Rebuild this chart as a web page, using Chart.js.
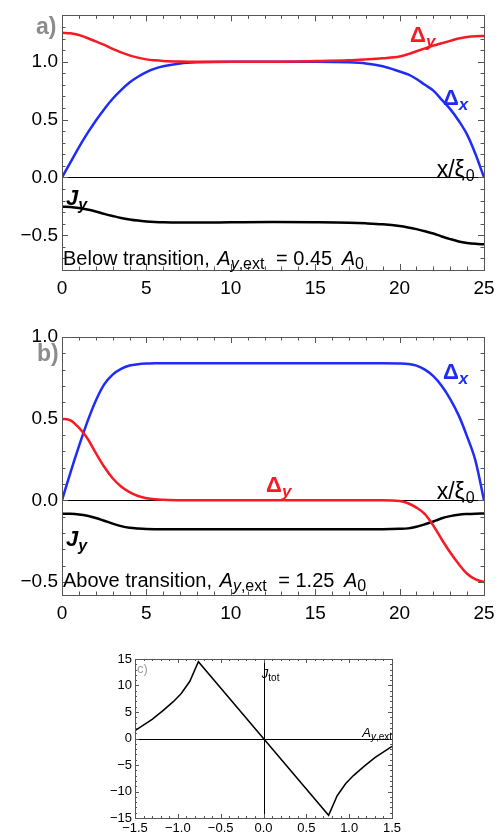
<!DOCTYPE html>
<html>
<head>
<meta charset="utf-8">
<script src="https://cdn.jsdelivr.net/npm/chart.js@4.4.0/dist/chart.umd.min.js"></script>
<style>
    body { margin: 0; background: #fff; }
    .panel { position: absolute; left: 0; }
    #panelA { top: 0; }
    #panelB { top: 300px; }
    #panelC { top: 630px; }
</style>
</head>
<body>
<div class="panel" id="panelA"><canvas id="chartA" width="502" height="300"></canvas></div>
<div class="panel" id="panelB"><canvas id="chartB" width="502" height="330"></canvas></div>
<div class="panel" id="panelC"><canvas id="chartC" width="502" height="207"></canvas></div>
<script>
// Position along the sample, x / xi0 (shared by panels a and b)
const xGrid = [0, 0.5, 1, 1.5, 2, 2.5, 3, 3.5, 4, 4.5, 5, 5.5, 6, 7, 8, 10, 12.5, 15, 17, 18, 19, 20, 20.5, 21, 21.5, 22, 22.5, 23, 23.5, 24, 24.5, 25];

// a) below transition, A_y,ext = 0.45 A0
const deltaXBelow = [0, 0.13, 0.26, 0.38, 0.49, 0.59, 0.68, 0.755, 0.82, 0.87, 0.91, 0.94, 0.96, 0.985, 0.995, 1.0, 1.0, 1.0, 0.995, 0.985, 0.96, 0.915, 0.89, 0.85, 0.80, 0.75, 0.67, 0.59, 0.49, 0.37, 0.20, 0];
const deltaYBelow = [1.25, 1.245, 1.23, 1.205, 1.175, 1.145, 1.11, 1.08, 1.055, 1.035, 1.02, 1.012, 1.007, 1.002, 1.0, 1.0, 1.0, 1.005, 1.012, 1.02, 1.03, 1.045, 1.065, 1.09, 1.115, 1.14, 1.16, 1.18, 1.2, 1.213, 1.22, 1.222];
const jyBelow = [-0.253, -0.256, -0.265, -0.278, -0.295, -0.315, -0.333, -0.35, -0.363, -0.373, -0.38, -0.385, -0.388, -0.39, -0.39, -0.388, -0.386, -0.388, -0.392, -0.397, -0.405, -0.42, -0.432, -0.447, -0.465, -0.485, -0.51, -0.533, -0.553, -0.566, -0.574, -0.578];

// b) above transition, A_y,ext = 1.25 A0
const deltaXAbove = [0, 0.17, 0.33, 0.48, 0.61, 0.71, 0.77, 0.805, 0.825, 0.833, 0.837, 0.839, 0.84, 0.84, 0.84, 0.84, 0.84, 0.84, 0.84, 0.84, 0.84, 0.838, 0.835, 0.825, 0.80, 0.76, 0.70, 0.62, 0.52, 0.39, 0.24, 0];
const deltaYAbove = [0.5, 0.49, 0.445, 0.38, 0.29, 0.205, 0.135, 0.085, 0.05, 0.026, 0.013, 0.006, 0.003, 0, 0, 0, 0, 0, 0, 0, 0, -0.004, -0.018, -0.045, -0.085, -0.155, -0.24, -0.32, -0.39, -0.45, -0.485, -0.5];
const jyAbove = [-0.082, -0.083, -0.087, -0.095, -0.108, -0.125, -0.143, -0.158, -0.168, -0.173, -0.176, -0.177, -0.177, -0.177, -0.177, -0.177, -0.177, -0.177, -0.177, -0.177, -0.177, -0.175, -0.172, -0.162, -0.147, -0.13, -0.11, -0.097, -0.088, -0.084, -0.082, -0.081];

// c) total current against the external field
const aExt = [-1.5, -1.3, -1.17, -1.05, -0.96, -0.86, -0.76, 0, 0.76, 0.86, 0.96, 1.05, 1.17, 1.3, 1.5];
const jTot = [1.5, 3.6, 5.3, 7.0, 8.5, 10.8, 14.5, 0, -14.5, -10.8, -8.5, -7.0, -5.3, -3.6, -1.5];

// tick values and labels
const xTicksAB = [0, 5, 10, 15, 20, 25];
const xTickLabelsAB = ['0', '5', '10', '15', '20', '25'];
const yTicksAB = [-0.5, 0, 0.5, 1.0];
const yTickLabelsAB = ['\u22120.5', '0.0', '0.5', '1.0'];
const xTicksC = [-1.5, -1, -0.5, 0, 0.5, 1, 1.5];
const xTickLabelsC = ['\u22121.5', '\u22121.0', '\u22120.5', '0.0', '0.5', '1.0', '1.5'];
const yTicksC = [-15, -10, -5, 0, 5, 10, 15];
const yTickLabelsC = ['\u221215', '\u221210', '\u22125', '0', '5', '10', '15'];

const FONT = '"Liberation Sans", Arial, sans-serif';
const RED = '#f51a24';
const BLUE = '#1f2cf5';
const GRAY = '#8c8c8c';

function points(xs, ys) {
    return xs.map((x, i) => ({ x: x, y: ys[i] }));
}

function curve(data, color, width) {
    return {
        data: data,
        borderColor: color,
        borderWidth: width,
        pointRadius: 0,
        fill: false,
        cubicInterpolationMode: 'monotone'
    };
}

// values between min and max that are multiples of step
function tickRun(min, max, step) {
    const out = [];
    const n0 = Math.ceil(min / step - 1e-6);
    const n1 = Math.floor(max / step + 1e-6);
    for (let k = n0; k <= n1; k++) out.push(k * step);
    return out;
}

function isMajor(v, major) {
    const r = v / major;
    return Math.abs(r - Math.round(r)) < 1e-6;
}

// Mathematica style frame: zero axes under the curves, frame and inward ticks on top
const framePlugin = {
    id: 'frame',
    beforeDatasetsDraw(chart, args, opts) {
        const ctx = chart.ctx;
        const a = chart.chartArea;
        const x = chart.scales.x, y = chart.scales.y;
        ctx.save();
        ctx.strokeStyle = '#000';
        ctx.lineWidth = opts.axisWidth;
        if (opts.hAxis) {
            const py = Math.round(y.getPixelForValue(0)) + 0.5;
            ctx.beginPath(); ctx.moveTo(a.left, py); ctx.lineTo(a.right, py); ctx.stroke();
        }
        if (opts.vAxis) {
            const px = Math.round(x.getPixelForValue(0)) + 0.5;
            ctx.beginPath(); ctx.moveTo(px, a.top); ctx.lineTo(px, a.bottom); ctx.stroke();
        }
        ctx.restore();
    },
    afterDatasetsDraw(chart, args, opts) {
        const ctx = chart.ctx;
        const a = chart.chartArea;
        const x = chart.scales.x, y = chart.scales.y;
        ctx.save();
        ctx.strokeStyle = '#555';
        ctx.lineWidth = 1;
        ctx.strokeRect(Math.round(a.left) + 0.5, Math.round(a.top) + 0.5, Math.round(a.right - a.left), Math.round(a.bottom - a.top));
        ctx.beginPath();
        tickRun(x.min, x.max, opts.xMinor).forEach(v => {
            const px = Math.round(x.getPixelForValue(v)) + 0.5;
            const len = isMajor(v, opts.xMajor) ? opts.majorLen : opts.minorLen;
            ctx.moveTo(px, a.bottom); ctx.lineTo(px, a.bottom - len);
            ctx.moveTo(px, a.top); ctx.lineTo(px, a.top + len);
        });
        tickRun(y.min, y.max, opts.yMinor).forEach(v => {
            const py = Math.round(y.getPixelForValue(v)) + 0.5;
            const len = isMajor(v, opts.yMajor) ? opts.majorLen : opts.minorLen;
            ctx.moveTo(a.left, py); ctx.lineTo(a.left + len, py);
            ctx.moveTo(a.right, py); ctx.lineTo(a.right - len, py);
        });
        ctx.stroke();
        ctx.restore();
    },
    afterDraw(chart, args, opts) {
        // text labels anchored on the data scales
        const ctx = chart.ctx;
        const x = chart.scales.x, y = chart.scales.y;
        ctx.save();
        ctx.textBaseline = 'alphabetic';
        ctx.textAlign = 'left';
        (opts.notes || []).forEach(note => {
            let cx = x.getPixelForValue(note.x);
            const cy = y.getPixelForValue(note.y);
            if (note.align === 'right') {
                let w = 0;
                note.parts.forEach(p => { ctx.font = p.font; w += ctx.measureText(p.text).width + (p.gap || 0); });
                cx -= w;
            }
            note.parts.forEach(p => {
                ctx.font = p.font;
                ctx.fillStyle = p.color || note.color || '#000';
                ctx.fillText(p.text, cx, cy + (p.dy || 0));
                cx += ctx.measureText(p.text).width + (p.gap || 0);
            });
        });
        ctx.restore();
    }
};

Chart.register(framePlugin);

function axes(xMin, xMax, yMin, yMax, xt, xl, yt, yl, fontSize, yWidth, xHeight, xPad, yPad) {
    return {
        x: {
            type: 'linear', min: xMin, max: xMax,
            grid: { display: false, drawTicks: false }, border: { display: false },
            afterBuildTicks: s => { s.ticks = xt.map(v => ({ value: v })); },
            afterFit: s => { s.height = xHeight; },
            ticks: {
                autoSkip: false, maxRotation: 0, padding: xPad, color: '#000',
                font: { family: FONT, size: fontSize },
                callback: (v, i) => xl[i]
            }
        },
        y: {
            type: 'linear', min: yMin, max: yMax,
            grid: { display: false, drawTicks: false }, border: { display: false },
            afterBuildTicks: s => { s.ticks = yt.map(v => ({ value: v })); },
            afterFit: s => { s.width = yWidth; },
            ticks: {
                autoSkip: false, padding: yPad, color: '#000',
                font: { family: FONT, size: fontSize },
                callback: (v, i) => yl[i]
            }
        }
    };
}

function deltaLabel(sub, color, x, y) {
    return { x: x, y: y, color: color, parts: [
        { text: '\u0394', font: 'bold 22px ' + FONT },
        { text: sub, font: 'bold italic 17px ' + FONT, dy: 5 }
    ] };
}

function jyLabel(x, y) {
    return { x: x, y: y, parts: [
        { text: 'J', font: 'bold italic 22px ' + FONT },
        { text: 'y', font: 'bold italic 16px ' + FONT, dy: 5 }
    ] };
}

function xiLabel(x, y) {
    return { x: x, y: y, align: 'right', parts: [
        { text: 'x/\u03be', font: '23px ' + FONT, gap: 1 },
        { text: '0', font: '16px ' + FONT, dy: 4 }
    ] };
}

function captionLabel(lead, value, x, y) {
    return { x: x, y: y, parts: [
        { text: lead + ' ', font: '20px ' + FONT, gap: 2 },
        { text: 'A', font: 'italic 20px ' + FONT },
        { text: 'y', font: 'italic 16px ' + FONT, dy: 4 },
        { text: ',ext', font: '16px ' + FONT, dy: 4, gap: 6 },
        { text: ' = ' + value + ' ', font: '20px ' + FONT, gap: 4 },
        { text: 'A', font: 'italic 20px ' + FONT },
        { text: '0', font: '16px ' + FONT, dy: 4 }
    ] };
}

// Panel a
new Chart(document.getElementById('chartA').getContext('2d'), {
    type: 'line',
    data: {
        datasets: [
            curve(points(xGrid, deltaYBelow), RED, 2.5),
            curve(points(xGrid, deltaXBelow), BLUE, 2.5),
            curve(points(xGrid, jyBelow), '#000', 2.5)
        ]
    },
    options: {
        responsive: false,
        animation: false,
        layout: { padding: { top: 10, right: 18, left: 0, bottom: 0 } },
        scales: axes(0, 25, -0.8, 1.4, xTicksAB, xTickLabelsAB, yTicksAB, yTickLabelsAB, 19, 62, 30, 7, 4),
        plugins: {
            legend: { display: false },
            tooltip: { enabled: false },
            frame: {
                hAxis: true, vAxis: false, axisWidth: 1,
                xMinor: 1, xMajor: 5, yMinor: 0.1, yMajor: 0.5, majorLen: 6, minorLen: 3.5,
                notes: [
                    { x: -1.54, y: 1.238, color: GRAY, parts: [{ text: 'a)', font: 'bold 23px ' + FONT }] },
                    deltaLabel('y', RED, 20.62, 1.171),
                    deltaLabel('x', BLUE, 22.57, 0.623),
                    xiLabel(24.45, 0.005),
                    jyLabel(0.24, -0.236),
                    captionLabel('Below transition,', '0.45', 0.06, -0.754)
                ]
            }
        }
    }
});

// Panel b
new Chart(document.getElementById('chartB').getContext('2d'), {
    type: 'line',
    data: {
        datasets: [
            curve(points(xGrid, deltaYAbove), RED, 2.5),
            curve(points(xGrid, deltaXAbove), BLUE, 2.5),
            curve(points(xGrid, jyAbove), '#000', 2.5)
        ]
    },
    options: {
        responsive: false,
        animation: false,
        layout: { padding: { top: 37, right: 18, left: 0, bottom: 0 } },
        scales: axes(0, 25, -0.58, 1.0, xTicksAB, xTickLabelsAB, yTicksAB, yTickLabelsAB, 19, 62, 35, 7, 4),
        plugins: {
            legend: { display: false },
            tooltip: { enabled: false },
            frame: {
                hAxis: true, vAxis: false, axisWidth: 1,
                xMinor: 1, xMajor: 5, yMinor: 0.1, yMajor: 0.5, majorLen: 6, minorLen: 3.5,
                notes: [
                    { x: -1.48, y: 0.855, color: GRAY, parts: [{ text: 'b)', font: 'bold 23px ' + FONT }] },
                    deltaLabel('x', BLUE, 22.57, 0.74),
                    deltaLabel('y', RED, 12.09, 0.05),
                    xiLabel(24.45, 0.005),
                    jyLabel(0.24, -0.28),
                    captionLabel('Above transition,', '1.25', 0.06, -0.529)
                ]
            }
        }
    }
});

// Panel c
new Chart(document.getElementById('chartC').getContext('2d'), {
    type: 'line',
    data: {
        datasets: [
            { data: points(aExt, jTot), borderColor: '#000', borderWidth: 1.5, pointRadius: 0, fill: false, tension: 0 }
        ]
    },
    options: {
        responsive: false,
        animation: false,
        layout: { padding: { top: 29, right: 110, left: 0, bottom: 0 } },
        scales: axes(-1.5, 1.5, -15, 15, xTicksC, xTickLabelsC, yTicksC, yTickLabelsC, 13, 135, 19, 3, 3),
        plugins: {
            legend: { display: false },
            tooltip: { enabled: false },
            frame: {
                hAxis: true, vAxis: true, axisWidth: 1,
                xMinor: 0.1, xMajor: 0.5, yMinor: 1, yMajor: 5, majorLen: 4, minorLen: 2,
                notes: [
                    { x: -1.477, y: 12.3, color: '#a0a0a0', parts: [{ text: 'c)', font: '13px ' + FONT }] },
                    { x: -0.02, y: 11.4, parts: [
                        { text: 'J', font: 'italic 13px ' + FONT },
                        { text: 'tot', font: '10px ' + FONT, dy: 3 }
                    ] },
                    { x: 1.5, y: 0.25, align: 'right', parts: [
                        { text: 'A', font: 'italic 13px ' + FONT },
                        { text: 'y', font: 'italic 10px ' + FONT, dy: 3 },
                        { text: ',ext', font: '10px ' + FONT, dy: 3 }
                    ] }
                ]
            }
        }
    }
});
</script>
</body>
</html>
